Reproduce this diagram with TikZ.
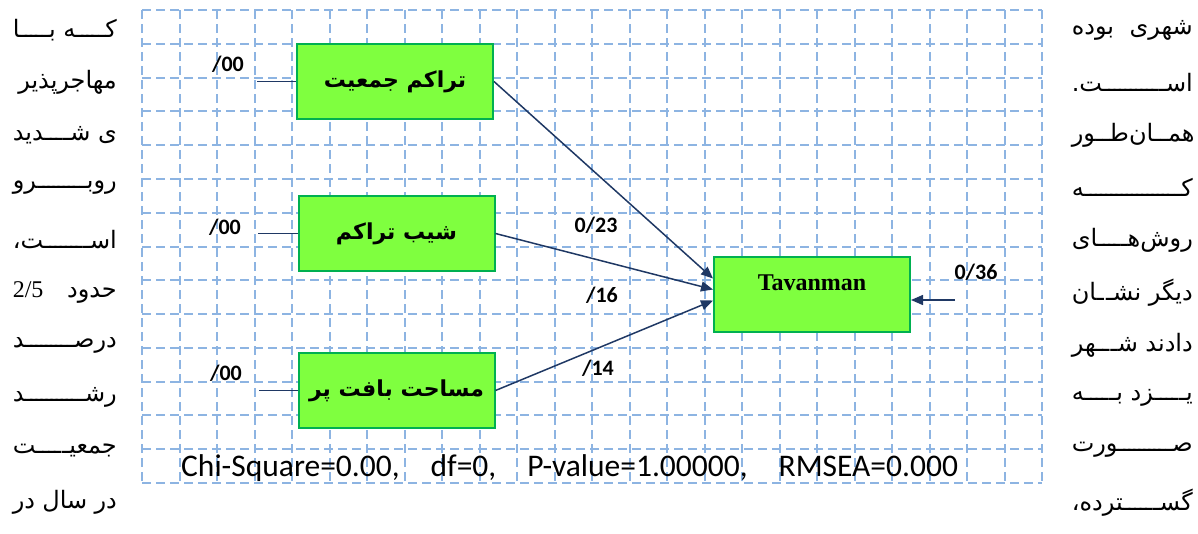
\documentclass[tikz,border=0pt]{standalone}
\usepackage{fontspec}
\usetikzlibrary{arrows.meta}
\TeXXeTstate=1
\newfontfamily\farsifont[Script=Arabic]{DejaVu Sans}
\newfontfamily\calibrifont{Carlito}
\newfontfamily\timesfont{Liberation Serif}
\definecolor{gridblue}{RGB}{141,180,226}
\definecolor{boxgreen}{RGB}{127,255,63}
\definecolor{boxedge}{RGB}{0,176,80}
\definecolor{pathnavy}{RGB}{31,56,100}
\newcommand\sidetxt[2]{\hbox to #1{\hfil\beginR #2\endR}}
% keshidan-e harf (kashida) ta por shodan-e satr
\newcommand\kash{\setbox0\hbox{ـ}\xleaders\hbox to .7\wd0{ـ\hss}\hfill}

\tikzset{
  gridline/.style={gridblue, line width=2pt, dash pattern=on 9pt off 5pt},
  varbox/.style={draw=boxedge, line width=2pt, fill=boxgreen, minimum width=196pt, minimum height=75pt, inner sep=0pt},
  faname/.style={font=\farsifont\bfseries\fontsize{22}{22}\selectfont},
  coef/.style={font=\calibrifont\bfseries\fontsize{22}{22}\selectfont, inner sep=0pt},
  stub/.style={pathnavy, line width=1.5pt},
  effect/.style={pathnavy, line width=1.5pt, -{Triangle[length=12pt,width=10pt]}},
  sideline/.style={font=\farsifont\fontsize{24}{24}\selectfont, anchor=east, inner sep=0pt}
}

\begin{document}
\begin{tikzpicture}[x=1pt,y=-1pt]
    \useasboundingbox (0,0) rectangle (1198,533);

    % shabake
    \foreach \i in {0,...,24}
        \draw[gridline] (142+37.5*\i,10) -- (142+37.5*\i,483);
    \foreach \j in {0,...,14}
        \draw[gridline] (142,10+33.786*\j) -- (1042,10+33.786*\j);

    % motaghayerha
    \node[varbox, faname] (pop) at (395,81.5) {\beginR تراکم جمعیت\endR};
    \node[varbox, faname] (slope) at (396.5,233.5) {\beginR شیب تراکم\endR};
    \node[varbox, faname] (area) at (396.5,390.5) {\beginR مساحت بافت پر\endR};
    \node[varbox, label={[font=\timesfont\bfseries\fontsize{24}{24}\selectfont, yshift=12pt]center:Tavanman}] (tav) at (812,294.5) {};

    % khatay-e khata
    \coordinate (s1) at (257,81.5);
    \coordinate (s2) at (258,233.5);
    \coordinate (s3) at (259,390.5);
    \draw[stub] (s1) -- (pop.west);
    \draw[stub] (s2) -- (slope.west);
    \draw[stub] (s3) -- (area.west);
    \node[coef] (c1) at (228,64) {/00};
    \node[coef] (c2) at (225,227) {/00};
    \node[coef] (c3) at (226,373) {/00};

    % masirha
    \draw[effect] (pop.east) -- ([yshift=16pt]tav.west);
    \draw[effect] (slope.east) -- ([yshift=5pt]tav.west);
    \draw[effect] (area.east) -- ([yshift=-6pt]tav.west);
    \coordinate (e4) at (955,300);
    \draw[effect] (e4) -- (e4 -| tav.east);
    \node[coef] (b1) at (596,225) {0/23};
    \node[coef] (b2) at (602,295) {/16};
    \node[coef] (b3) at (598,368) {/14};
    \node[coef] (b4) at (976,272) {0/36};

    % shakhesha
    \node[font=\calibrifont\fontsize{31.5}{32}\selectfont, anchor=base west, inner sep=0pt] (fit) at (181,476)
        {Chi-Square=0.00,\hspace{31pt}df=0,\hspace{31pt}P-value=1.00000,\hspace{31pt}RMSEA=0.000};

    % matn-e kenar
    \foreach \t [count=\k from 0] in {کـ\kash ـه بـ\kash ـا, مهاجرپذیر, ی شـ\kash ـدید, روبـ\kash ـرو, اسـ\kash ـت،,
        {حدود\hfill\beginL{\timesfont 2/5}\endL}, درصـ\kash ـد, رشـ\kash ـد, جمعیـ\kash ـت, در\hfill سال\hfill در}
        \node[sideline] (left\k) at (117,30+52.5*\k) {\sidetxt{104pt}{\t}};
    \foreach \t [count=\k from 0] in {شهری\hfill بوده, اسـ\kash ـت., همـ\kash ـان^^^^200cطـ\kash ـور, کـ\kash ـه, روش^^^^200cهـ\kash ـای,
        دیگر نشـ\kash ـان, دادند شـ\kash ـهر, یـ\kash ـزد بـ\kash ـه, صـ\kash ـورت, گسـ\kash ـترده،}
        \node[sideline] (right\k) at (1193,30+52.5*\k) {\sidetxt{121pt}{\t}};
\end{tikzpicture}
\end{document}
